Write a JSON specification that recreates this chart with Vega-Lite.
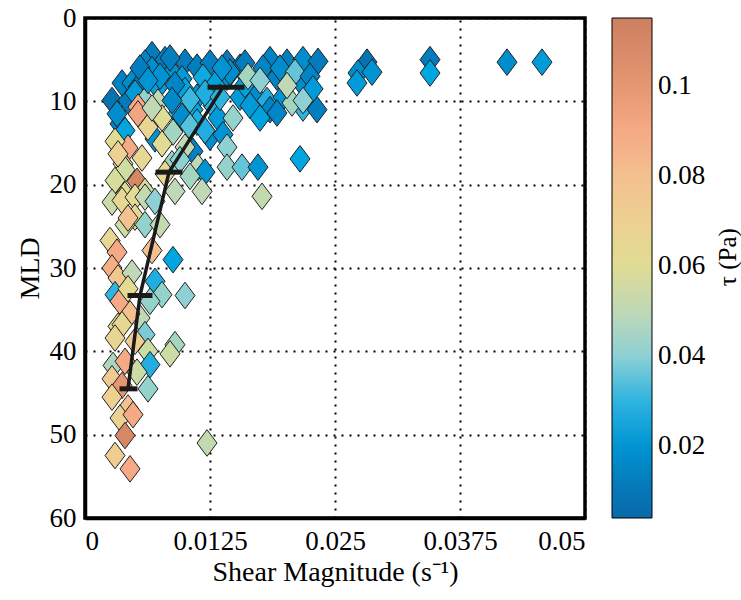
{
  "$schema": "https://vega.github.io/schema/vega-lite/v6.json",
  "width": 500,
  "height": 500,
  "autosize": {"type": "none"},
  "padding": {"left": 85, "top": 18, "right": 156, "bottom": 82},
  "background": "white",
  "config": {
    "view": {"stroke": "black", "strokeWidth": 3.5},
    "axis": {
      "labelFont": "Liberation Serif", "labelFontSize": 27, "labelColor": "black",
      "titleFont": "Liberation Serif", "titleFontSize": 28, "titleFontWeight": "normal", "titleColor": "black",
      "domainColor": "black", "domainWidth": 3.5, "tickSize": 0,
      "grid": true, "gridColor": "black", "gridDash": [2, 6], "gridWidth": 2, "gridOpacity": 1
    },
    "legend": {
      "labelFont": "Liberation Serif", "labelFontSize": 27, "labelColor": "black"
    }
  },
  "datasets": {
    "pts": [
      {"s":0.0027,"d":9.9,"t":0.008},{"s":0.0043,"d":9.9,"t":0.012},{"s":0.0037,"d":7.8,"t":0.015},{"s":0.0047,"d":7.8,"t":0.018},
      {"s":0.0053,"d":8.3,"t":0.013},{"s":0.0067,"d":4.4,"t":0.012},{"s":0.008,"d":5.0,"t":0.014},{"s":0.006,"d":5.4,"t":0.016},
      {"s":0.01,"d":5.3,"t":0.012},{"s":0.0067,"d":6.2,"t":0.018},{"s":0.0087,"d":6.6,"t":0.02},{"s":0.0097,"d":7.3,"t":0.022},
      {"s":0.01,"d":8.7,"t":0.025},{"s":0.0073,"d":8.3,"t":0.024},{"s":0.0112,"d":5.9,"t":0.014},{"s":0.0125,"d":5.4,"t":0.013},
      {"s":0.0142,"d":5.4,"t":0.011},{"s":0.0155,"d":5.9,"t":0.016},{"s":0.016,"d":5.4,"t":0.012},{"s":0.0185,"d":5.0,"t":0.015},
      {"s":0.0202,"d":5.3,"t":0.013},{"s":0.0218,"d":5.0,"t":0.018},{"s":0.0233,"d":5.2,"t":0.012},{"s":0.0118,"d":7.1,"t":0.026},
      {"s":0.0142,"d":7.1,"t":0.02},{"s":0.0192,"d":7.1,"t":0.015},{"s":0.0215,"d":7.5,"t":0.018},
      {"s":0.0112,"d":9.5,"t":0.02},{"s":0.0155,"d":9.5,"t":0.022},{"s":0.0168,"d":9.0,"t":0.018},{"s":0.0182,"d":9.9,"t":0.028},
      {"s":0.0198,"d":9.5,"t":0.02},{"s":0.0282,"d":5.3,"t":0.008},{"s":0.0273,"d":6.6,"t":0.018},{"s":0.0272,"d":7.8,"t":0.022},
      {"s":0.0287,"d":6.5,"t":0.02},{"s":0.0345,"d":5.0,"t":0.012},{"s":0.0345,"d":6.6,"t":0.025},{"s":0.0422,"d":5.3,"t":0.018},
      {"s":0.0457,"d":5.3,"t":0.022},{"s":0.0035,"d":12.7,"t":0.015},{"s":0.0032,"d":11.5,"t":0.018},{"s":0.004,"d":13.5,"t":0.025},
      {"s":0.0093,"d":11.5,"t":0.03},{"s":0.0097,"d":12.0,"t":0.02},{"s":0.0108,"d":11.0,"t":0.025},{"s":0.0112,"d":12.5,"t":0.028},
      {"s":0.0128,"d":10.5,"t":0.03},{"s":0.0133,"d":12.0,"t":0.022},{"s":0.0148,"d":12.0,"t":0.042},{"s":0.0125,"d":14.3,"t":0.018},
      {"s":0.0138,"d":14.0,"t":0.02},{"s":0.0142,"d":15.5,"t":0.04},{"s":0.0108,"d":16.0,"t":0.015},{"s":0.0113,"d":17.9,"t":0.05},
      {"s":0.0142,"d":17.9,"t":0.042},{"s":0.0157,"d":17.9,"t":0.036},{"s":0.0173,"d":17.9,"t":0.02},{"s":0.0215,"d":16.9,"t":0.025},
      {"s":0.012,"d":18.5,"t":0.02},{"s":0.0117,"d":20.8,"t":0.05},{"s":0.0177,"d":21.4,"t":0.052},{"s":0.0185,"d":11.0,"t":0.016},
      {"s":0.0218,"d":10.8,"t":0.03},{"s":0.0165,"d":10.5,"t":0.022},{"s":0.0175,"d":12.0,"t":0.024},
      {"s":0.0207,"d":10.2,"t":0.045},{"s":0.0192,"d":11.4,"t":0.016},{"s":0.0232,"d":11.0,"t":0.014},{"s":0.0145,"d":6.5,"t":0.018},
      {"s":0.013,"d":8.0,"t":0.024},{"s":0.009,"d":8.0,"t":0.016},{"s":0.0075,"d":7.0,"t":0.02},{"s":0.0055,"d":6.0,"t":0.014},
      {"s":0.005,"d":9.0,"t":0.022},{"s":0.0105,"d":9.8,"t":0.032},{"s":0.012,"d":9.0,"t":0.028},{"s":0.0135,"d":9.5,"t":0.03},
      {"s":0.016,"d":8.0,"t":0.024},{"s":0.0178,"d":6.0,"t":0.016},{"s":0.0195,"d":6.0,"t":0.018},{"s":0.021,"d":6.5,"t":0.036},
      {"s":0.0225,"d":7.0,"t":0.016},{"s":0.0228,"d":8.5,"t":0.022},{"s":0.0163,"d":7.0,"t":0.045},{"s":0.0137,"d":6.0,"t":0.02},
      {"s":0.0175,"d":7.5,"t":0.04},{"s":0.0202,"d":8.1,"t":0.05},{"s":0.0218,"d":9.9,"t":0.04},
      {"s":0.0088,"d":13.7,"t":0.045},{"s":0.0097,"d":11.8,"t":0.018},{"s":0.0065,"d":12.0,"t":0.04},{"s":0.007,"d":14.5,"t":0.02},
      {"s":0.0105,"d":13.0,"t":0.035},{"s":0.012,"d":13.5,"t":0.028},{"s":0.006,"d":9.9,"t":0.042},{"s":0.0073,"d":10.1,"t":0.05},
      {"s":0.0087,"d":9.9,"t":0.017},{"s":0.0063,"d":7.5,"t":0.02},{"s":0.0085,"d":4.8,"t":0.013},
      {"s":0.0053,"d":10.7,"t":0.09},{"s":0.0053,"d":11.5,"t":0.092},{"s":0.0063,"d":13.1,"t":0.066},{"s":0.0077,"d":12.0,"t":0.06},
      {"s":0.0067,"d":10.8,"t":0.05},{"s":0.0043,"d":15.6,"t":0.09},{"s":0.0057,"d":16.8,"t":0.064},{"s":0.0077,"d":15.1,"t":0.062},
      {"s":0.0038,"d":17.5,"t":0.06},{"s":0.004,"d":18.2,"t":0.056},{"s":0.0087,"d":17.5,"t":0.044},{"s":0.008,"d":18.7,"t":0.064},
      {"s":0.0052,"d":19.6,"t":0.11},{"s":0.006,"d":20.8,"t":0.058},{"s":0.004,"d":21.2,"t":0.06},{"s":0.009,"d":20.8,"t":0.05},
      {"s":0.003,"d":14.8,"t":0.06},{"s":0.0033,"d":16.3,"t":0.07},{"s":0.003,"d":19.5,"t":0.058},
      {"s":0.01,"d":15.5,"t":0.052},{"s":0.0095,"d":17.0,"t":0.04},{"s":0.0105,"d":19.0,"t":0.045},
      {"s":0.0027,"d":22.1,"t":0.054},{"s":0.0037,"d":21.9,"t":0.064},{"s":0.005,"d":21.5,"t":0.062},{"s":0.006,"d":21.5,"t":0.052},
      {"s":0.007,"d":22.0,"t":0.04},{"s":0.005,"d":23.9,"t":0.066},{"s":0.004,"d":24.8,"t":0.056},{"s":0.0043,"d":24.0,"t":0.078},
      {"s":0.006,"d":24.8,"t":0.042},{"s":0.0075,"d":24.8,"t":0.052},{"s":0.0025,"d":26.7,"t":0.064},{"s":0.0032,"d":28.1,"t":0.09},
      {"s":0.0067,"d":27.9,"t":0.08},{"s":0.0088,"d":29.0,"t":0.025},{"s":0.0027,"d":30.0,"t":0.088},{"s":0.0033,"d":31.2,"t":0.076},
      {"s":0.0047,"d":30.6,"t":0.05},{"s":0.003,"d":33.2,"t":0.03},{"s":0.0035,"d":34.0,"t":0.09},{"s":0.0043,"d":32.5,"t":0.062},
      {"s":0.007,"d":31.6,"t":0.028},{"s":0.0077,"d":33.2,"t":0.042},{"s":0.01,"d":33.3,"t":0.04},{"s":0.0065,"d":34.0,"t":0.042},
      {"s":0.0033,"d":37.0,"t":0.06},{"s":0.0055,"d":36.0,"t":0.05},{"s":0.0045,"d":35.5,"t":0.08},
      {"s":0.0037,"d":36.8,"t":0.064},{"s":0.003,"d":38.4,"t":0.066},{"s":0.006,"d":38.0,"t":0.038},{"s":0.005,"d":38.8,"t":0.072},
      {"s":0.009,"d":39.2,"t":0.045},{"s":0.0085,"d":40.3,"t":0.055},{"s":0.0063,"d":40.0,"t":0.055},{"s":0.0028,"d":41.7,"t":0.046},
      {"s":0.004,"d":41.2,"t":0.09},{"s":0.0065,"d":41.6,"t":0.028},{"s":0.0052,"d":42.5,"t":0.055},{"s":0.0027,"d":43.3,"t":0.074},
      {"s":0.0037,"d":44.1,"t":0.1},{"s":0.0063,"d":44.5,"t":0.042},{"s":0.0027,"d":45.5,"t":0.07},{"s":0.0043,"d":46.8,"t":0.078},
      {"s":0.0035,"d":48.0,"t":0.068},{"s":0.0048,"d":47.6,"t":0.09},{"s":0.004,"d":50.1,"t":0.11},{"s":0.003,"d":52.5,"t":0.072},
      {"s":0.0045,"d":54.1,"t":0.09},{"s":0.0122,"d":51.0,"t":0.052}
    ],
    "means": [
      {"s":0.0138,"d":8.3,"lo":0.0125,"hi":0.0157},
      {"s":0.0084,"d":18.5,"lo":0.0073,"hi":0.0095},
      {"s":0.0055,"d":33.3,"lo":0.0045,"hi":0.0065},
      {"s":0.0043,"d":44.5,"lo":0.0037,"hi":0.005}
    ],
    "ctitle": [{"l":"τ (Pa)"}]
  },
  "layer": [
    {
      "data": {"name": "pts"},
      "mark": {"type": "point", "shape": "M0,-1.33L1,0L0,1.33L-1,0Z", "filled": true, "size": 400, "stroke": "#222222", "strokeWidth": 1, "opacity": 1},
      "encoding": {
        "x": {"field": "s", "type": "quantitative", "scale": {"domain": [0, 0.05], "nice": false},
              "axis": {"values": [0, 0.0125, 0.025, 0.0375, 0.05], "labelExpr": "format(datum.value, '~g')",
                       "labelPadding": 10, "title": "Shear Magnitude (s⁻¹)", "titlePadding": 4}},
        "y": {"field": "d", "type": "quantitative", "scale": {"domain": [0, 60], "reverse": true, "nice": false},
              "axis": {"values": [0, 10, 20, 30, 40, 50, 60], "labelPadding": 9, "title": "MLD", "titlePadding": 5}},
        "color": {"field": "t", "type": "quantitative",
          "scale": {"domain": [0.004, 0.015, 0.025, 0.033, 0.04, 0.05, 0.06, 0.07, 0.08, 0.09, 0.1, 0.115],
                    "range": ["#0a6aa8", "#0082c4", "#00a6e0", "#40bce0", "#8ed0d4", "#c0d8b6", "#e0dc94", "#eed092", "#f3c08e", "#f5a985", "#e69672", "#cc8060"]},
          "legend": {"title": null, "orient": "none", "legendX": 527, "legendY": 0, "direction": "vertical",
                     "gradientLength": 500, "gradientThickness": 40, "gradientStrokeColor": "black", "gradientStrokeWidth": 1,
                     "values": [0.02, 0.04, 0.06, 0.08, 0.1], "labelExpr": "format(datum.value, '~g')", "labelOffset": 6}}
      }
    },
    {
      "data": {"name": "means"},
      "mark": {"type": "line", "color": "#1a1a1a", "strokeWidth": 3.5},
      "encoding": {
        "x": {"field": "s", "type": "quantitative", "scale": {"domain": [0, 0.05], "nice": false}},
        "y": {"field": "d", "type": "quantitative", "scale": {"domain": [0, 60], "reverse": true, "nice": false}},
        "order": {"field": "d"}
      }
    },
    {
      "data": {"name": "means"},
      "mark": {"type": "rule", "color": "#1a1a1a", "strokeWidth": 5, "strokeCap": "square"},
      "encoding": {
        "x": {"field": "lo", "type": "quantitative", "scale": {"domain": [0, 0.05], "nice": false}},
        "x2": {"field": "hi"},
        "y": {"field": "d", "type": "quantitative", "scale": {"domain": [0, 60], "reverse": true, "nice": false}}
      }
    },
    {
      "data": {"name": "ctitle"},
      "mark": {"type": "text", "baseline": "middle", "align": "center", "angle": 270, "font": "Liberation Serif", "fontSize": 25, "color": "black"},
      "encoding": {
        "x": {"datum": 0.0643, "type": "quantitative", "scale": {"domain": [0, 0.05], "nice": false}},
        "y": {"datum": 28.7, "type": "quantitative", "scale": {"domain": [0, 60], "reverse": true, "nice": false}},
        "text": {"field": "l"}
      }
    }
  ]
}
